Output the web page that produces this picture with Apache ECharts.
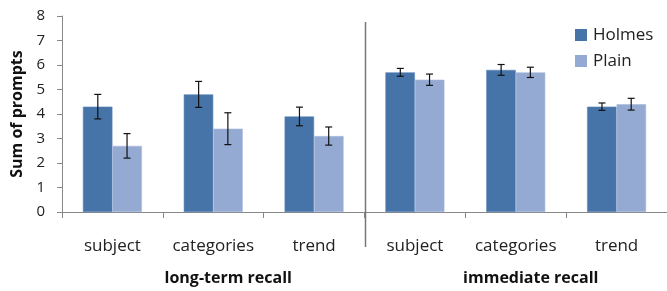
<!DOCTYPE html>
<html lang="en">
<head>
    <meta charset="UTF-8">
    <title>Sum of prompts</title>
    <script src="https://cdn.jsdelivr.net/npm/echarts@6/dist/echarts.min.js"></script>
    <style>
        html, body { margin: 0; padding: 0; background: #fff; }
    </style>
</head>
<body>
    <div id="main" style="width:667px;height:291px;"></div>
    <script>
        // data
        let categories = ['subject', 'categories', 'trend', 'subject', 'categories', 'trend'];
        let groups = ['long-term recall', 'immediate recall'];
        let holmes = [4.3, 4.8, 3.9, 5.7, 5.8, 4.3];
        let holmesErr = [0.5, 0.53, 0.38, 0.16, 0.22, 0.15];
        let plain = [2.7, 3.4, 3.1, 5.4, 5.7, 4.4];
        let plainErr = [0.5, 0.65, 0.37, 0.23, 0.21, 0.24];
        let yTicks = [0, 1, 2, 3, 4, 5, 6, 7, 8];

        let font = '"Open Sans", sans-serif';
        let chart = echarts.init(document.getElementById('main'));

        function errSeries(vals, errs, side) {
            return {
                type: 'custom',
                z: 10,
                silent: true,
                data: vals.map(function (v, i) { return [i, v, errs[i]]; }),
                renderItem: function (params, api) {
                    let i = api.value(0), v = api.value(1), e = api.value(2);
                    let center = api.coord([i, v]);
                    let w = api.size([1, 0])[0];
                    let x = center[0] + side * w * 0.145;
                    let top = api.coord([i, v + e])[1];
                    let bot = api.coord([i, v - e])[1];
                    let style = { stroke: '#111', lineWidth: 1.2 };
                    return {
                        type: 'group',
                        children: [
                            { type: 'line', shape: { x1: x, y1: top, x2: x, y2: bot }, style: style },
                            { type: 'line', shape: { x1: x - 3.5, y1: top, x2: x + 3.5, y2: top }, style: style },
                            { type: 'line', shape: { x1: x - 3.5, y1: bot, x2: x + 3.5, y2: bot }, style: style }
                        ]
                    };
                }
            };
        }

        chart.setOption({
            animation: false,
            textStyle: { fontFamily: font },
            legend: {
                data: ['Holmes', 'Plain'],
                orient: 'vertical',
                left: 570,
                top: 21,
                itemWidth: 12,
                itemHeight: 12,
                itemGap: 8,
                icon: 'rect',
                itemStyle: { borderWidth: 0 },
                textStyle: { fontSize: 17, lineHeight: 18, color: '#222', fontFamily: font, padding: [0, 0, 0, 1] }
            },
            grid: { left: 62, top: 16, width: 610, height: 196 },
            xAxis: [{
                type: 'category',
                data: categories,
                axisLine: { lineStyle: { color: '#888' } },
                axisTick: { show: true, length: 6, lineStyle: { color: '#888' } },
                axisLabel: { fontSize: 17, color: '#222', margin: 26, interval: 0, hideOverlap: false, fontFamily: font }
            }, {
                type: 'category',
                data: groups,
                position: 'bottom',
                axisLine: { show: false },
                axisTick: { show: false },
                axisLabel: {
                    fontSize: 16, fontWeight: 'bold', color: '#111', margin: 58, interval: 0,
                    padding: [0, 0, 0, 30], fontFamily: font
                }
            }],
            yAxis: {
                type: 'value',
                min: yTicks[0],
                max: yTicks[yTicks.length - 1],
                interval: 1,
                name: 'Sum of prompts',
                nameLocation: 'middle',
                nameGap: 37,
                nameTextStyle: { fontSize: 16, fontWeight: 'bold', color: '#111', fontFamily: font },
                axisLine: { show: true, lineStyle: { color: '#888' } },
                axisTick: { show: true, length: 5, lineStyle: { color: '#888' } },
                splitLine: { show: false },
                axisLabel: { fontSize: 15, color: '#222', margin: 17, fontFamily: font }
            },
            series: [{
                name: 'Holmes',
                type: 'bar',
                data: holmes,
                barWidth: 29.5,
                barGap: '0%',
                itemStyle: { color: '#4674A8', borderColor: '#5d86b8', borderWidth: 0.6 }
            }, {
                name: 'Plain',
                type: 'bar',
                data: plain,
                barWidth: 29.5,
                itemStyle: { color: '#94AAD2', borderColor: '#aabbdc', borderWidth: 0.6 }
            },
            errSeries(holmes, holmesErr, -1),
            errSeries(plain, plainErr, 1)
            ]
        });

        // separator between the two groups
        let a = chart.convertToPixel({ xAxisIndex: 0 }, 2);
        let b = chart.convertToPixel({ xAxisIndex: 0 }, 3);
        let sepX = Math.round((a + b) / 2) + 0.5;
        chart.setOption({
            graphic: [{
                type: 'line',
                shape: { x1: sepX, y1: 22, x2: sepX, y2: 247 },
                style: { stroke: '#777', lineWidth: 1.5 },
                z: 20
            }]
        });
    </script>
</body>
</html>
